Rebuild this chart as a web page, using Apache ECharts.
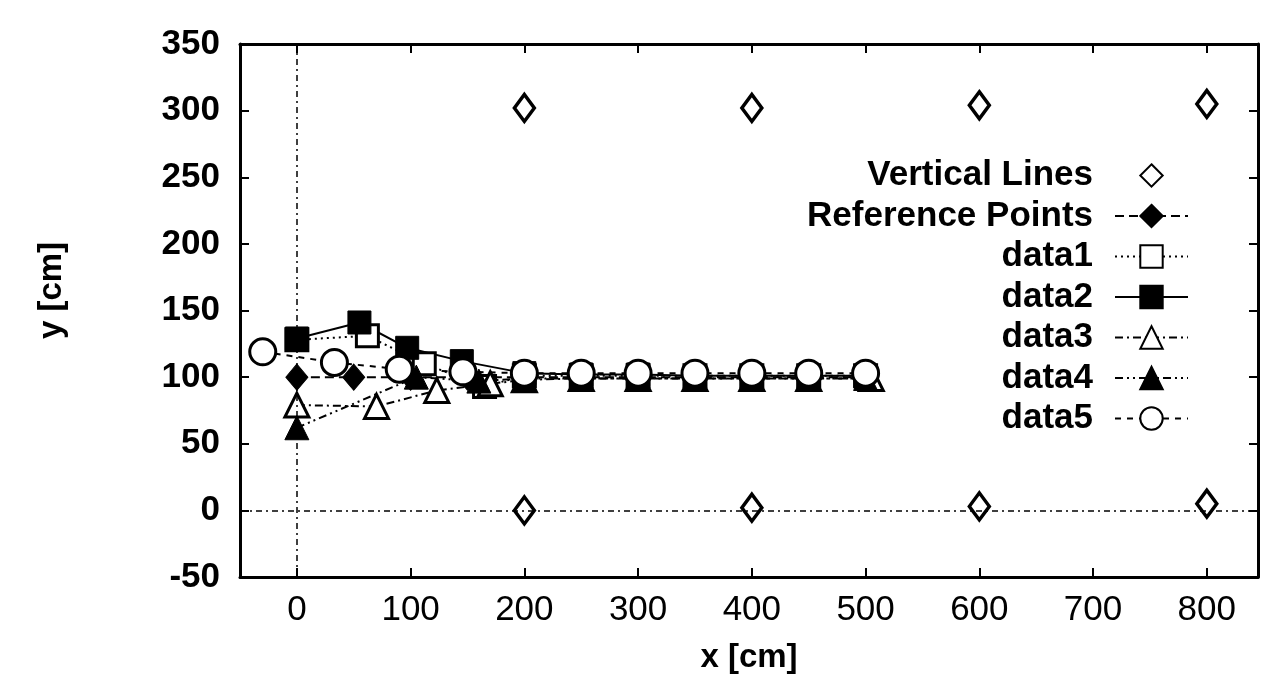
<!DOCTYPE html>
<html>
<head>
<meta charset="utf-8">
<script src="https://cdn.jsdelivr.net/npm/echarts@6/dist/echarts.min.js"></script>
<style>html,body{margin:0;padding:0;background:#fff}#c{width:1261px;height:679px}</style>
</head>
<body>
<div id="c"></div>
<script>
// ---- data ----
var xTicks = [0, 100, 200, 300, 400, 500, 600, 700, 800];
var yTicks = [-50, 0, 50, 100, 150, 200, 250, 300, 350];

var vlX = [200, 400, 600, 800];
var vlTopY = [302, 302, 304, 305];
var vlBottomY = [0, 2, 3, 5];

var refX = [0, 50, 100, 150, 200, 250, 300, 350, 400, 450, 500];
var refY = [100, 100, 100, 100, 100, 100, 100, 100, 100, 100, 100];

var d1X = [0, 62, 112, 165, 200, 250, 300, 350, 400, 450, 500];
var d1Y = [128, 131, 110, 93, 101, 101, 101, 101, 101, 101, 101];

var d2X = [0, 55, 97, 145, 200, 250, 300, 350, 400, 450, 500];
var d2Y = [129, 141, 122, 112, 103, 102, 102, 101, 101, 101, 101];

var d3X = [0, 70, 123, 170, 200, 250, 300, 350, 400, 450, 505];
var d3Y = [79, 78, 90, 95, 98, 99, 99, 99, 99, 99, 99];

var d4X = [0, 105, 160, 200, 250, 300, 350, 400, 450, 500];
var d4Y = [62, 100, 97, 99, 99, 99, 99, 99, 99, 99];

var d5X = [-30, 33, 90, 146, 200, 250, 300, 350, 400, 450, 500];
var d5Y = [119, 111, 106, 104, 103, 103, 103, 103, 103, 103, 103];

function zip(xs, ys) { return xs.map(function (x, i) { return [x, ys[i]]; }); }

var FONT = '"Liberation Sans", Arial, Helvetica, sans-serif';
var openStyle = { color: '#fff', borderColor: '#000', borderWidth: 3 };
var fillStyle = { color: '#000', borderColor: '#000', borderWidth: 1 };

function lineSeries(name, xs, ys, symbol, size, item, dash) {
  return {
    name: name, type: 'line', data: zip(xs, ys),
    symbol: symbol, symbolSize: size, showSymbol: true,
    itemStyle: item,
    lineStyle: { color: '#000', width: 2, type: dash },
    z: 3
  };
}

var chart = echarts.init(document.getElementById('c'), null, { renderer: 'canvas' });
chart.setOption({
  animation: false,
  backgroundColor: '#fff',
  grid: { left: 240, right: 3, top: 44, bottom: 102 },
  xAxis: [{
    type: 'value', min: -50, max: 845, position: 'bottom',
    name: 'x [cm]', nameLocation: 'middle', nameGap: 64,
    nameTextStyle: { fontFamily: FONT, fontSize: 33, fontWeight: 'bold', color: '#000' },
    axisLine: { show: true, onZero: false, lineStyle: { color: '#000', width: 3 } },
    axisTick: { show: true, inside: true, length: 9, lineStyle: { color: '#000', width: 2 }, customValues: xTicks },
    axisLabel: { show: true, margin: 16, fontFamily: FONT, fontSize: 35, color: '#000', customValues: xTicks },
    splitLine: { show: false }
  }, {
    type: 'value', min: -50, max: 845, position: 'top',
    axisLine: { show: true, onZero: false, lineStyle: { color: '#000', width: 3 } },
    axisTick: { show: true, inside: true, length: 9, lineStyle: { color: '#000', width: 2 }, customValues: xTicks },
    axisLabel: { show: false },
    splitLine: { show: false }
  }],
  yAxis: [{
    type: 'value', min: -50, max: 350, interval: 50, position: 'left',
    name: 'y [cm]', nameLocation: 'middle', nameGap: 172, nameRotate: 90,
    nameTextStyle: { fontFamily: FONT, fontSize: 33, fontWeight: 'bold', color: '#000', padding: [0, 0, 0, 40] },
    axisLine: { show: true, onZero: false, lineStyle: { color: '#000', width: 3 } },
    axisTick: { show: true, inside: true, length: 9, lineStyle: { color: '#000', width: 2 } },
    axisLabel: { show: true, margin: 20, fontFamily: FONT, fontSize: 35, fontWeight: 'bold', color: '#000' },
    splitLine: { show: false }
  }, {
    type: 'value', min: -50, max: 350, interval: 50, position: 'right',
    axisLine: { show: true, onZero: false, lineStyle: { color: '#000', width: 3 } },
    axisTick: { show: true, inside: true, length: 9, lineStyle: { color: '#000', width: 2 } },
    axisLabel: { show: false },
    splitLine: { show: false }
  }],
  legend: {
    orient: 'vertical', align: 'right', right: 67, top: 153,
    itemWidth: 73, itemHeight: 28, itemGap: 5.5,
    textStyle: { fontFamily: FONT, fontSize: 35, fontWeight: 'bold', color: '#000', padding: [0, 17, 0, 0] },
    data: ['Vertical Lines', 'Reference Points', 'data1', 'data2', 'data3', 'data4', 'data5']
  },
  series: [
    {
      name: 'Vertical Lines', type: 'line',
      data: zip(vlX, vlTopY).concat(zip(vlX, vlBottomY)),
      symbol: 'diamond', symbolSize: [20, 27], showSymbol: true,
      itemStyle: { color: '#fff', borderColor: '#000', borderWidth: 3.5 }, z: 4,
      lineStyle: { opacity: 0, width: 0 },
      markLine: {
        silent: true, symbol: 'none', label: { show: false },
        lineStyle: { color: '#000', width: 1.5, type: [6, 4, 2, 4], opacity: 1 },
        data: [{ xAxis: 0 }, { yAxis: 0 }]
      }
    },
    lineSeries('Reference Points', refX, refY, 'diamond', [22, 26], fillStyle, [9, 5]),
    lineSeries('data1', d1X, d1Y, 'rect', 22, openStyle, [2, 4]),
    lineSeries('data2', d2X, d2Y, 'rect', 23, fillStyle, 'solid'),
    lineSeries('data3', d3X, d3Y, 'triangle', 24, openStyle, [8, 4, 2, 4]),
    lineSeries('data4', d4X, d4Y, 'triangle', 24, fillStyle, [8, 4, 2, 4, 2, 4]),
    lineSeries('data5', d5X, d5Y, 'circle', 26, openStyle, [6, 6])
  ]
});
</script>
</body>
</html>
